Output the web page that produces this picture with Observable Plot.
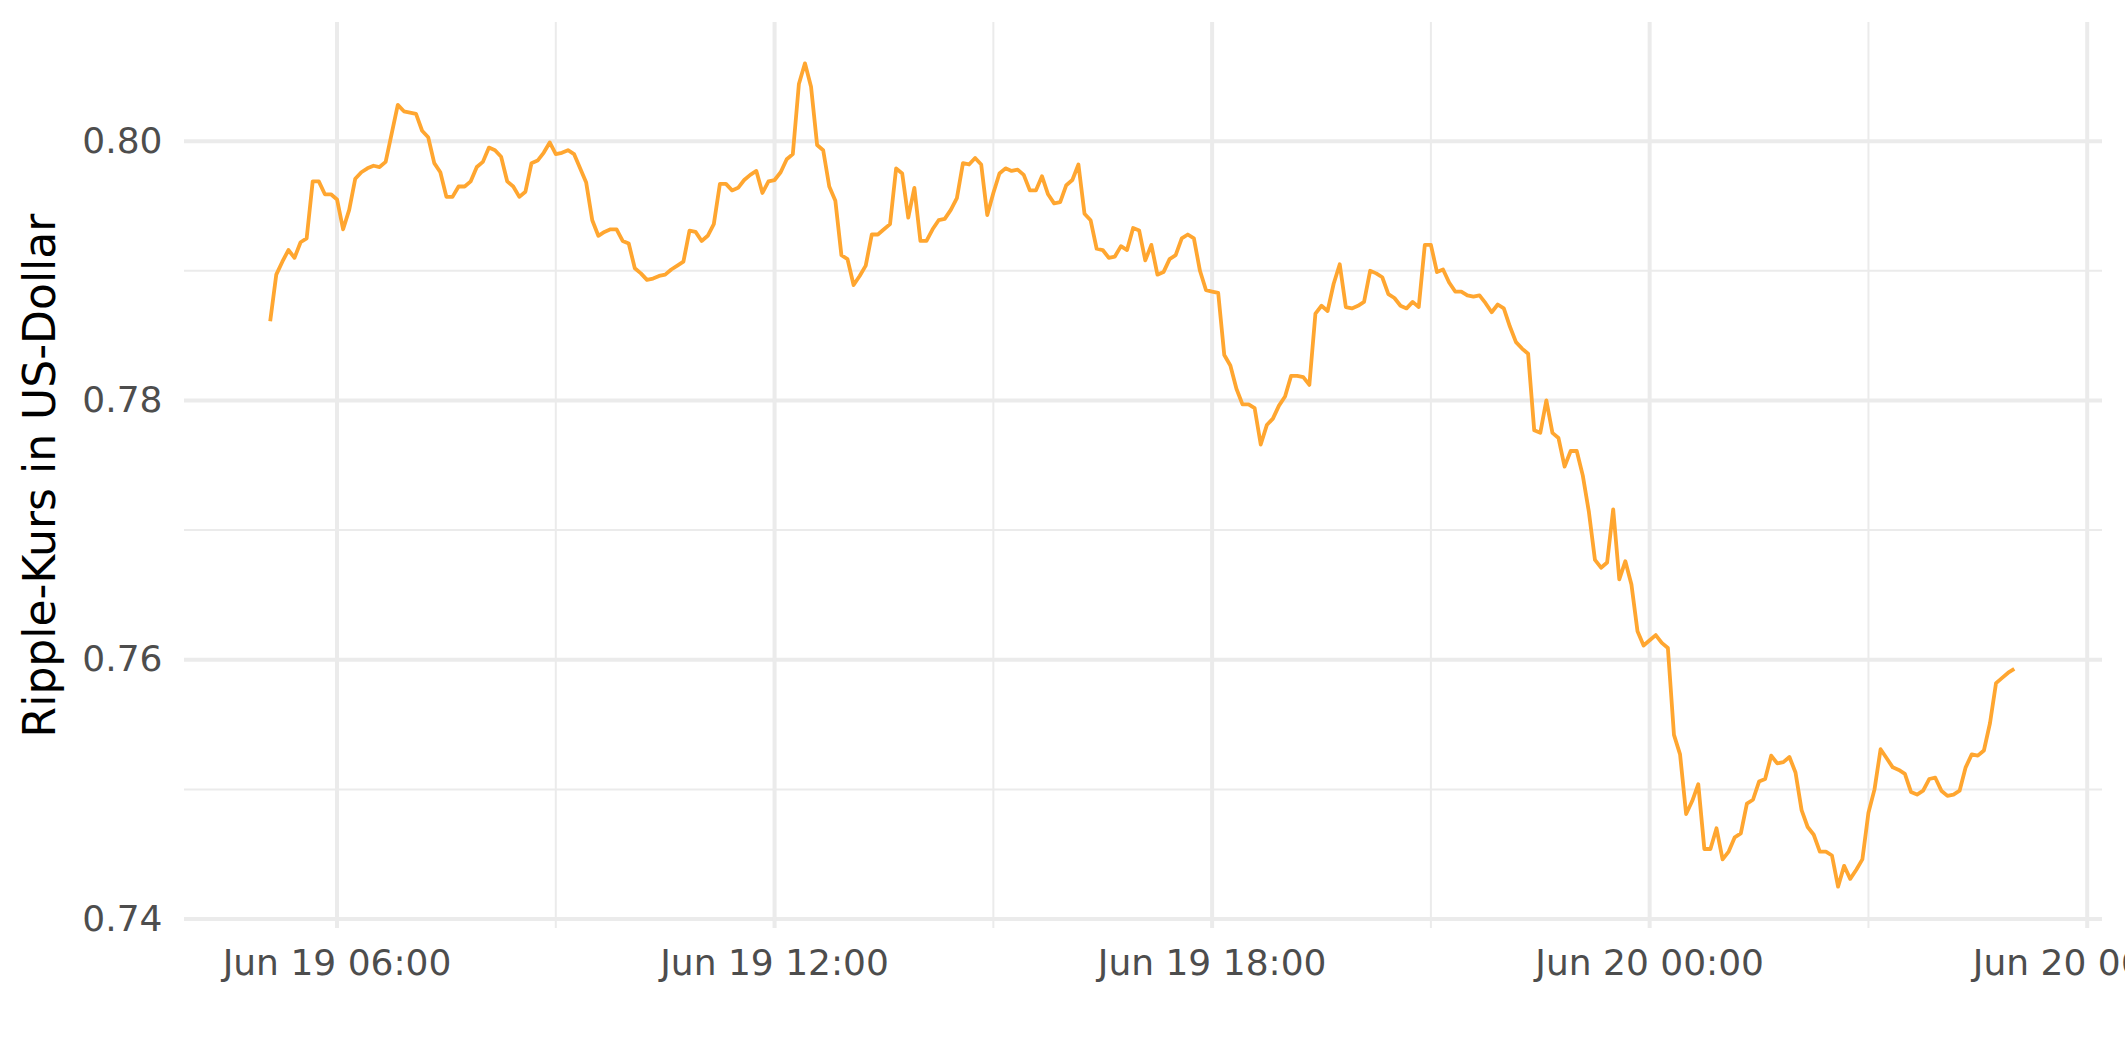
<!DOCTYPE html>
<html>
<head>
<meta charset="utf-8">
<script src="https://cdn.jsdelivr.net/npm/d3@7"></script>
<script src="https://cdn.jsdelivr.net/npm/@observablehq/plot@0.6"></script>
<style>
html, body { margin: 0; padding: 0; overflow: hidden; background: #ffffff; }
#chart svg { display: block; }
</style>
</head>
<body>
<div id="chart"></div>
<script>
// ---- Data ----
const startTime = "2021-06-19T05:05:00Z";   // first observation
const stepMinutes = 5;                       // sampling interval
const prices = [
  0.7861, 0.7897, 0.7907, 0.7916, 0.7910, 0.7922, 0.7925, 0.7969, 0.7969, 0.7959,
  0.7959, 0.7955, 0.7932, 0.7947, 0.7971, 0.7976, 0.7979, 0.7981, 0.7980, 0.7984,
  0.8006, 0.8028, 0.8023, 0.8022, 0.8021, 0.8008, 0.8003, 0.7983, 0.7976, 0.7957,
  0.7957, 0.7965, 0.7965, 0.7969, 0.7980, 0.7984, 0.7995, 0.7993, 0.7988, 0.7969,
  0.7965, 0.7957, 0.7961, 0.7983, 0.7985, 0.7991, 0.7999, 0.7990, 0.7991, 0.7993,
  0.7990, 0.7979, 0.7968, 0.7939, 0.7927, 0.7930, 0.7932, 0.7932, 0.7923, 0.7921,
  0.7902, 0.7898, 0.7893, 0.7894, 0.7896, 0.7897, 0.7901, 0.7904, 0.7907, 0.7931,
  0.7930, 0.7923, 0.7927, 0.7936, 0.7967, 0.7967, 0.7962, 0.7964, 0.7970, 0.7974,
  0.7977, 0.7960, 0.7969, 0.7970, 0.7976, 0.7986, 0.7990, 0.8044, 0.8060, 0.8042,
  0.7997, 0.7993, 0.7965, 0.7954, 0.7912, 0.7909, 0.7889, 0.7896, 0.7904, 0.7928,
  0.7928, 0.7932, 0.7936, 0.7979, 0.7975, 0.7941, 0.7964, 0.7923, 0.7923, 0.7932,
  0.7939, 0.7940, 0.7947, 0.7956, 0.7983, 0.7982, 0.7987, 0.7982, 0.7943, 0.7960,
  0.7975, 0.7979, 0.7977, 0.7978, 0.7974, 0.7962, 0.7962, 0.7973, 0.7959, 0.7952,
  0.7953, 0.7966, 0.7970, 0.7982, 0.7944, 0.7939, 0.7917, 0.7916, 0.7910, 0.7911,
  0.7919, 0.7916, 0.7933, 0.7931, 0.7908, 0.7920, 0.7897, 0.7899, 0.7909, 0.7912,
  0.7925, 0.7928, 0.7925, 0.7900, 0.7885, 0.7884, 0.7883, 0.7835, 0.7827, 0.7809,
  0.7797, 0.7797, 0.7794, 0.7766, 0.7781, 0.7786, 0.7796, 0.7803, 0.7819, 0.7819,
  0.7818, 0.7812, 0.7867, 0.7873, 0.7869, 0.7890, 0.7905, 0.7872, 0.7871, 0.7873,
  0.7876, 0.7900, 0.7898, 0.7895, 0.7882, 0.7879, 0.7873, 0.7871, 0.7876, 0.7872,
  0.7920, 0.7920, 0.7899, 0.7901, 0.7891, 0.7884, 0.7884, 0.7881, 0.7880, 0.7881,
  0.7875, 0.7868, 0.7874, 0.7871, 0.7857, 0.7845, 0.7840, 0.7836, 0.7777, 0.7775,
  0.7800, 0.7775, 0.7771, 0.7749, 0.7761, 0.7761, 0.7742, 0.7714, 0.7677, 0.7671,
  0.7675, 0.7716, 0.7662, 0.7676, 0.7658, 0.7622, 0.7611, 0.7615, 0.7619, 0.7613,
  0.7609, 0.7542, 0.7527, 0.7481, 0.7491, 0.7504, 0.7454, 0.7454, 0.7470, 0.7446,
  0.7452, 0.7463, 0.7466, 0.7489, 0.7492, 0.7506, 0.7508, 0.7526, 0.7520, 0.7521,
  0.7525, 0.7513, 0.7484, 0.7471, 0.7465, 0.7452, 0.7452, 0.7449, 0.7425, 0.7441,
  0.7431, 0.7438, 0.7446, 0.7482, 0.7500, 0.7531, 0.7524, 0.7517, 0.7515, 0.7512,
  0.7498, 0.7496, 0.7499, 0.7508, 0.7509, 0.7499, 0.7495, 0.7496, 0.7499, 0.7517,
  0.7527, 0.7526, 0.7530, 0.7551, 0.7582, 0.7586, 0.7590, 0.7593
];

// ---- Axes / ticks ----
const yTicks = [0.74, 0.76, 0.78, 0.80];
const yMinorTicks = [0.75, 0.77, 0.79];
const xTicks = ["2021-06-19T06:00:00Z", "2021-06-19T12:00:00Z", "2021-06-19T18:00:00Z",
                "2021-06-20T00:00:00Z", "2021-06-20T06:00:00Z"];
const xMinorTicks = ["2021-06-19T09:00:00Z", "2021-06-19T15:00:00Z", "2021-06-19T21:00:00Z",
                     "2021-06-20T03:00:00Z"];
const xDomain = ["2021-06-19T03:54:30Z", "2021-06-20T06:12:35Z"];
const yDomain = [0.73927, 0.80915];
const yLabel = "Ripple-Kurs in US-Dollar";

// ---- Build chart ----
const t0 = new Date(startTime);
const data = prices.map((v, i) => ({date: d3.utcMinute.offset(t0, i * stepMinutes), price: v}));
const toDate = s => new Date(s);

const gridColor = "#EBEBEB";
const chart = Plot.plot({
  width: 2125,
  height: 1062,
  marginLeft: 184,
  marginRight: 23,
  marginTop: 22,
  marginBottom: 134,
  style: {fontFamily: "'DejaVu Sans', sans-serif", fontSize: "36px", background: "#ffffff", color: "#4D4D4D"},
  x: {type: "utc", domain: xDomain.map(toDate)},
  y: {domain: yDomain},
  marks: [
    Plot.gridY(yMinorTicks, {stroke: gridColor, strokeOpacity: 1, strokeWidth: 2}),
    Plot.gridX(xMinorTicks.map(toDate), {stroke: gridColor, strokeOpacity: 1, strokeWidth: 2}),
    Plot.gridY(yTicks, {stroke: gridColor, strokeOpacity: 1, strokeWidth: 4}),
    Plot.gridX(xTicks.map(toDate), {stroke: gridColor, strokeOpacity: 1, strokeWidth: 4}),
    Plot.axisY(yTicks, {tickSize: 0, tickPadding: 22, tickFormat: d3.format(".2f"), label: null,
                        fontSize: 36, fill: "#4D4D4D"}),
    Plot.axisX(xTicks.map(toDate), {tickSize: 0, tickPadding: 21, tickFormat: d3.utcFormat("%b %d %H:%M"),
                                    label: null, fontSize: 36, fill: "#4D4D4D"}),
    Plot.text([yLabel], {text: d => d, frameAnchor: "left", textAnchor: "middle", rotate: -90, dx: -144,
                         fontSize: 44, fill: "#000000", lineAnchor: "middle"}),
    Plot.line(data, {x: "date", y: "price", stroke: "#FFA630", strokeWidth: 3.8,
                     strokeLinejoin: "round", strokeLinecap: "butt"})
  ]
});
document.getElementById("chart").appendChild(chart);
</script>
</body>
</html>
